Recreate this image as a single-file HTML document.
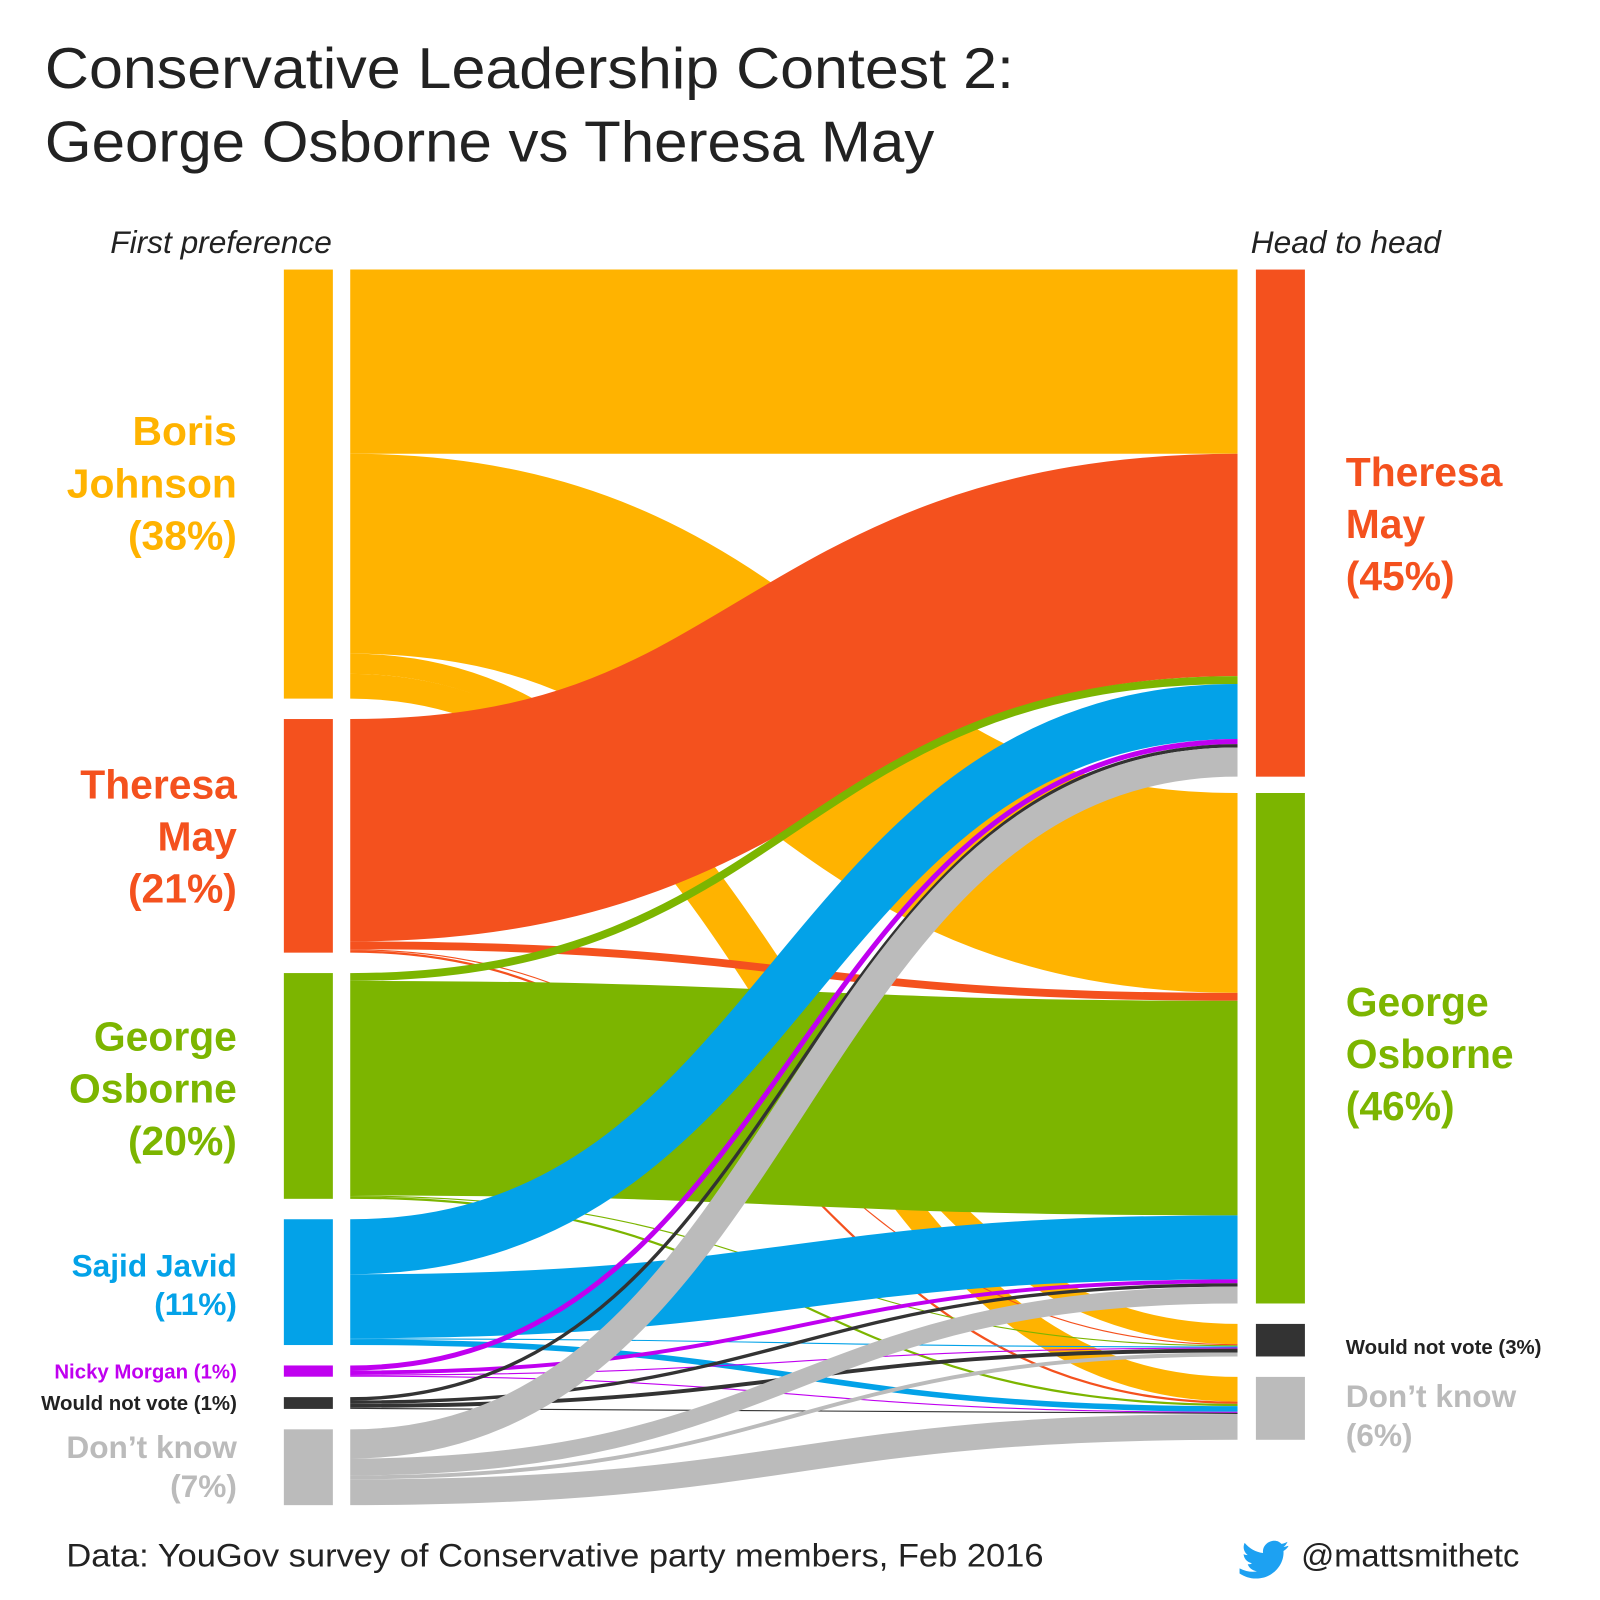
<!DOCTYPE html>
<html><head><meta charset="utf-8"><style>
html,body{margin:0;padding:0;background:#fff;}
svg{display:block;font-family:"Liberation Sans",sans-serif;}
</style></head><body>
<svg id="chart" width="1600" height="1600" viewBox="0 0 1567 1567">
<rect width="1567" height="1567" fill="#fff"/>
<text x="44" y="86" font-size="56" fill="#222" textLength="949" lengthAdjust="spacingAndGlyphs">Conservative Leadership Contest 2:</text>
<text x="44" y="158" font-size="56" fill="#222" textLength="871" lengthAdjust="spacingAndGlyphs">George Osborne vs Theresa May</text>
<text x="325" y="248" font-size="31" font-style="italic" fill="#222" text-anchor="end">First preference</text>
<text x="1225" y="248" font-size="31" font-style="italic" fill="#222">Head to head</text>
<g id="links"></g>
<g id="nodes"></g>
<g font-weight="bold" text-anchor="end">
<text x="232" y="436" font-size="40" fill="#FFB300"><tspan x="232">Boris</tspan><tspan x="232" dy="51">Johnson</tspan><tspan x="232" dy="51">(38%)</tspan></text>
<text x="232" y="782" font-size="40" fill="#F4511E"><tspan x="232">Theresa</tspan><tspan x="232" dy="51">May</tspan><tspan x="232" dy="51">(21%)</tspan></text>
<text x="232" y="1029" font-size="40" fill="#7CB500"><tspan x="232">George</tspan><tspan x="232" dy="51">Osborne</tspan><tspan x="232" dy="51">(20%)</tspan></text>
<text x="232" y="1250" font-size="31" fill="#03A2E8"><tspan x="232">Sajid Javid</tspan><tspan x="232" dy="38">(11%)</tspan></text>
<text x="232" y="1350" font-size="20" fill="#C000F0">Nicky Morgan (1%)</text>
<text x="232" y="1381" font-size="20" fill="#222">Would not vote (1%)</text>
<text x="232" y="1428" font-size="31" fill="#BBBBBB"><tspan x="232">Don’t know</tspan><tspan x="232" dy="38">(7%)</tspan></text>
</g>
<g font-weight="bold">
<text x="1318" y="476" font-size="40" fill="#F4511E"><tspan x="1318">Theresa</tspan><tspan x="1318" dy="51">May</tspan><tspan x="1318" dy="51">(45%)</tspan></text>
<text x="1318" y="995" font-size="40" fill="#7CB500"><tspan x="1318">George</tspan><tspan x="1318" dy="51">Osborne</tspan><tspan x="1318" dy="51">(46%)</tspan></text>
<text x="1318" y="1326" font-size="20" fill="#222">Would not vote (3%)</text>
<text x="1318" y="1378" font-size="31" fill="#BBBBBB"><tspan x="1318">Don’t know</tspan><tspan x="1318" dy="38">(6%)</tspan></text>
</g>
<text x="65" y="1534" font-size="32" fill="#222" textLength="957" lengthAdjust="spacingAndGlyphs">Data: YouGov survey of Conservative party members, Feb 2016</text>
<path d="M1214 1536 c6 3 12 4 17 3 c-5 -1 -8 -4 -9 -7 c2 0 3 0 4 -1 c-5 -1 -8 -5 -8 -9 c1 1 3 1 4 1 c-4 -3 -5 -8 -3 -12 c5 6 11 9 18 10 c-1 -7 5 -12 11 -12 c3 0 5 1 7 3 c2 0 4 -1 6 -2 c-1 2 -2 4 -4 5 c2 0 4 -1 5 -1 c-1 2 -3 4 -5 5 c1 13 -10 27 -27 27 c-6 0 -11 -2 -16 -5z" fill="#1DA1F2"/>
<text x="1488" y="1534" font-size="32" fill="#222" text-anchor="end">@mattsmithetc</text>
</svg>
<script>
const sources = ["Boris Johnson","Theresa May","George Osborne","Sajid Javid","Nicky Morgan","Would not vote","Don't know"];
const targets = ["Theresa May","George Osborne","Would not vote","Don't know"];
const sourceColors = ["#FFB300","#F4511E","#7CB500","#03A2E8","#C000F0","#333333","#BBBBBB"];
const targetColors = ["#F4511E","#7CB500","#333333","#BBBBBB"];
const toMay = [16.4,19.8,0.7,4.9,0.45,0.3,2.6];
const toOsborne = [17.8,0.7,19.1,5.7,0.35,0.3,1.5];
const toWouldNotVote = [1.8,0.1,0.1,0.1,0.1,0.35,0.35];
const toDontKnow = [2.2,0.2,0.2,0.5,0.1,0.1,2.3];

const NS="http://www.w3.org/2000/svg";
const k=11, top0=264, gapL=20, gapR=[16,20,20];
const xL0=278,xL1=326,xR0=1230,xR1=1278,fx0=343,fx1=1212;
const matrix=sources.map((s,i)=>[toMay[i],toOsborne[i],toWouldNotVote[i],toDontKnow[i]]);
const sh=v=>v*k;
const leftY=[];let y=top0;
sources.forEach((s,i)=>{const t=matrix[i].reduce((a,b)=>a+b,0);leftY.push([y,y+sh(t)]);y+=sh(t)+gapL;});
const rightY=[];y=top0;
targets.forEach((t,j)=>{const tot=matrix.reduce((a,r)=>a+r[j],0);rightY.push([y,y+sh(tot)]);y+=sh(tot)+(gapR[j]||0);});
const nodes=document.getElementById('nodes'),links=document.getElementById('links');
sources.forEach((s,i)=>{const r=document.createElementNS(NS,'rect');
r.setAttribute('x',xL0);r.setAttribute('y',leftY[i][0]);r.setAttribute('width',xL1-xL0);r.setAttribute('height',Math.max(1,leftY[i][1]-leftY[i][0]));r.setAttribute('fill',sourceColors[i]);


nodes.appendChild(r);});
targets.forEach((t,j)=>{const r=document.createElementNS(NS,'rect');
r.setAttribute('x',xR0);r.setAttribute('y',rightY[j][0]);r.setAttribute('width',xR1-xR0);r.setAttribute('height',rightY[j][1]-rightY[j][0]);r.setAttribute('fill',targetColors[j]);


nodes.appendChild(r);});
const rOff=rightY.map(r=>r[0]);
const xm=(fx0+fx1)/2;
sources.forEach((s,i)=>{let ly=leftY[i][0];
matrix[i].forEach((v,j)=>{const w=sh(v);const y0=ly+w/2,y1=rOff[j]+w/2;ly+=w;rOff[j]+=w;
const p=document.createElementNS(NS,'path');
p.setAttribute('d',`M${fx0} ${y0} C${xm} ${y0} ${xm} ${y1} ${fx1} ${y1}`);
p.setAttribute('fill','none');p.setAttribute('stroke',sourceColors[i]);p.setAttribute('stroke-width',Math.max(1,w));


links.appendChild(p);});});
</script>
</body></html>
